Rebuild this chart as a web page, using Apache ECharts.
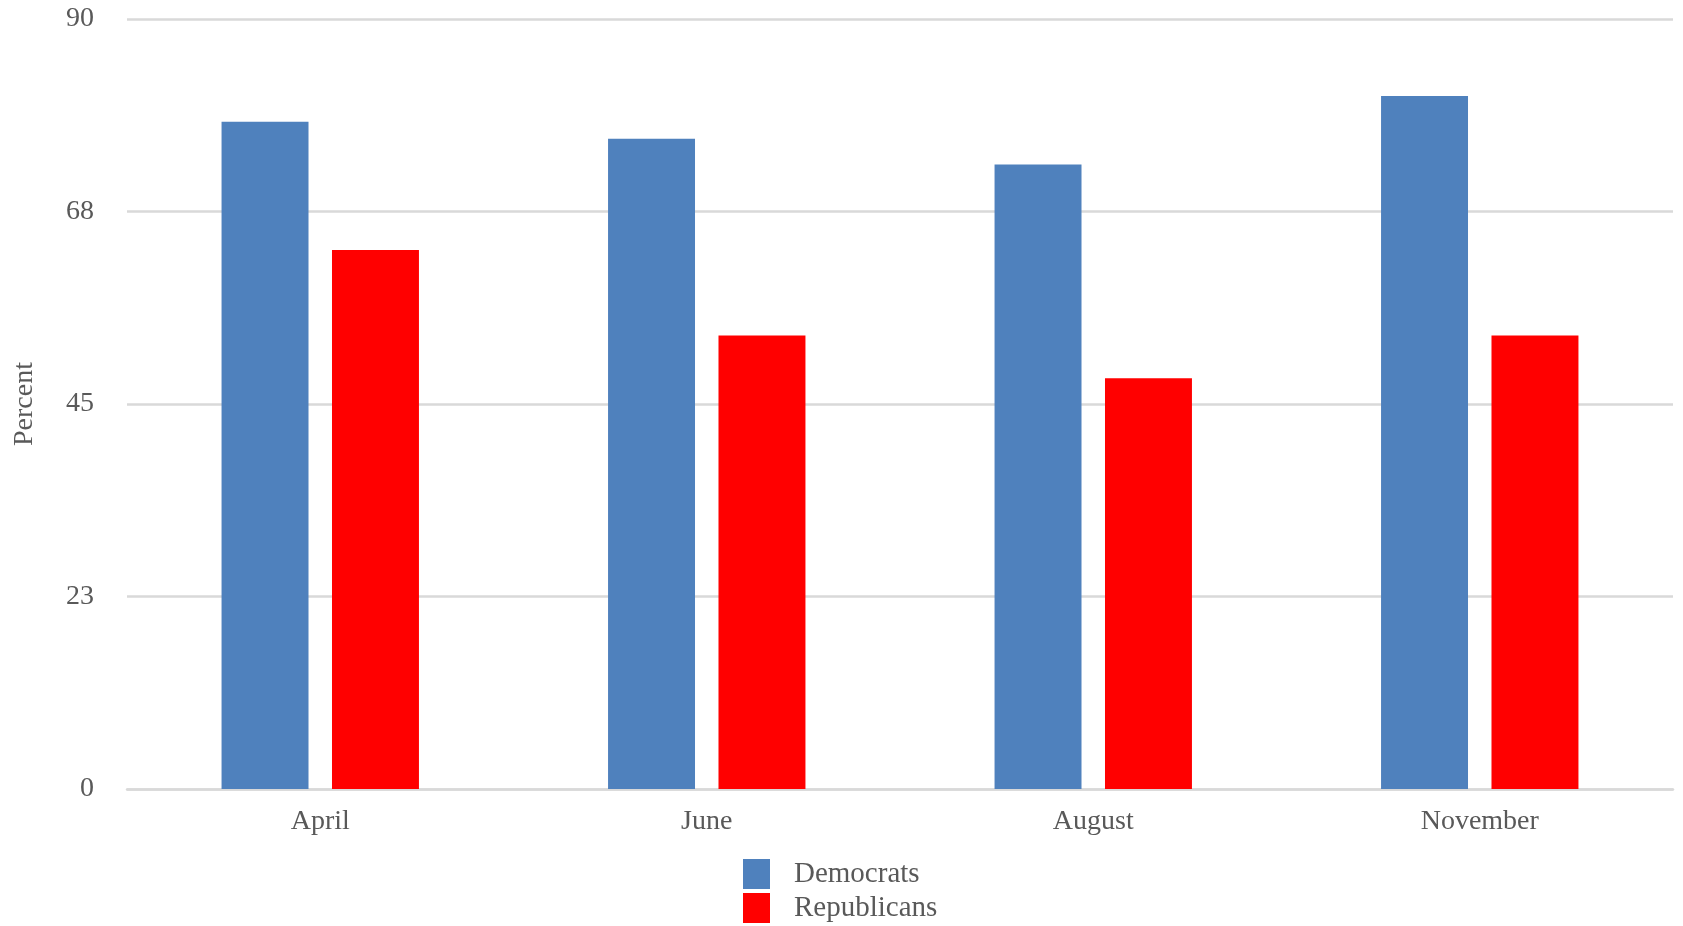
<!DOCTYPE html>
<html>
<head>
<meta charset="utf-8">
<script src="https://cdn.jsdelivr.net/npm/echarts@6/dist/echarts.min.js"></script>
<style>html,body{margin:0;padding:0;background:#fff}#c{width:1683px;height:926px}</style>
</head>
<body>
<div id="c"></div>
<script>
const categories = ['April', 'June', 'August', 'November'];
const democrats = [78, 76, 73, 81];
const republicans = [63, 53, 48, 53];
const yTicks = [0, 22.5, 45, 67.5, 90];

const font = '"Liberation Serif", "DejaVu Serif", serif';
const txt = '#595959';
const chart = echarts.init(document.getElementById('c'));
chart.setOption({
  animation: false,
  grid: { left: 127, right: 10, top: 19, bottom: 137 },
  legend: {
    orient: 'vertical', left: 743, top: 859, padding: 0,
    itemWidth: 27, itemHeight: 30, itemGap: 4,
    icon: 'rect',
    textStyle: { fontFamily: font, fontSize: 29, lineHeight: 30, color: txt, padding: [0, 0, 0, 19] },
    data: ['Democrats', 'Republicans']
  },
  xAxis: {
    type: 'category', data: categories,
    axisLine: { lineStyle: { color: '#d9d9d9', width: 2.5 } },
    axisTick: { show: false },
    axisLabel: { fontFamily: font, fontSize: 28, color: txt, margin: 19 }
  },
  yAxis: {
    type: 'value', min: 0, max: 90, interval: 22.5,
    name: 'Percent', nameLocation: 'middle', nameGap: 88,
    nameTextStyle: { fontFamily: font, fontSize: 28, color: txt },
    axisLine: { show: false }, axisTick: { show: false },
    axisLabel: { fontFamily: font, fontSize: 28, color: txt, margin: 33,
      formatter: v => String(Math.round(v)) },
    splitLine: { lineStyle: { color: '#d9d9d9', width: 2.5 } }
  },
  series: [
    { name: 'Democrats', type: 'bar', data: democrats, barWidth: '22.5%', barGap: '27%',
      itemStyle: { color: '#4f81bd' } },
    { name: 'Republicans', type: 'bar', data: republicans, barWidth: '22.5%',
      itemStyle: { color: '#ff0000' } }
  ]
});
</script>
</body>
</html>
